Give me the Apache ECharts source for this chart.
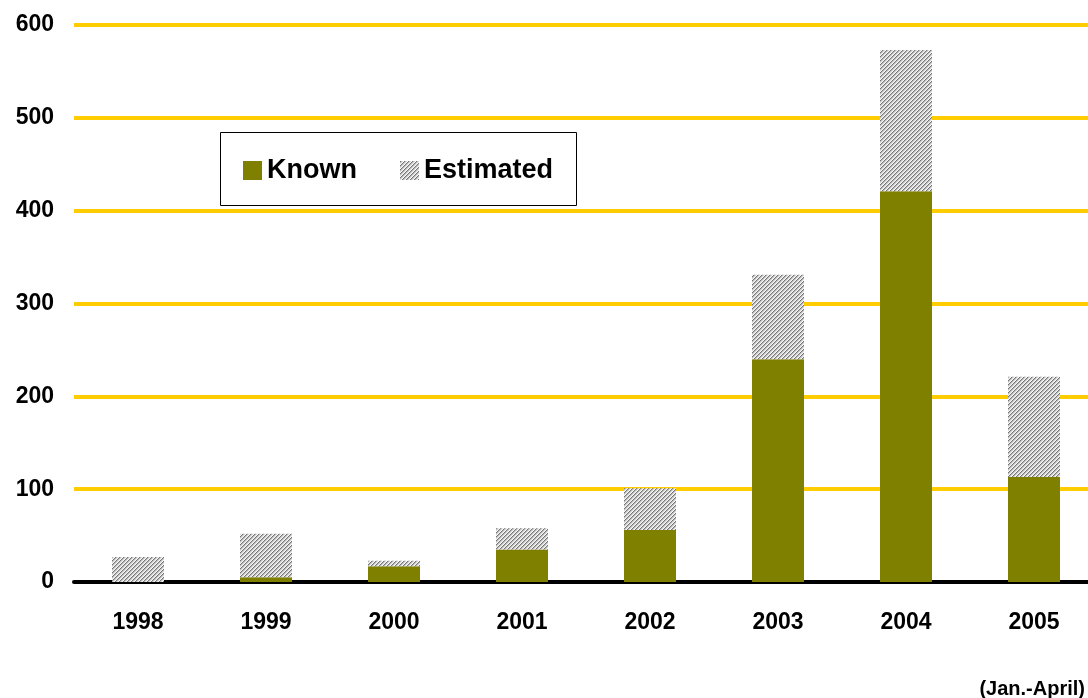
<!DOCTYPE html>
<html><head><meta charset="utf-8">
<script src="https://cdn.jsdelivr.net/npm/echarts@6/dist/echarts.min.js"></script>
<style>html,body{margin:0;padding:0;background:#fff;overflow:hidden}#c{width:1098px;height:698px}</style>
</head><body><div id="c"></div>
<script>
const years = ['1998','1999','2000','2001','2002','2003','2004','2005'];
const known = [0, 5, 17, 35, 56, 240, 421, 113];
const estimated = [27, 47, 6, 23, 45, 91, 152, 108];
const yTicks = [0, 100, 200, 300, 400, 500, 600];

function hatch(){
  const c = document.createElement('canvas');
  c.width = 4; c.height = 4;
  const g = c.getContext('2d');
  g.fillStyle = '#ffffff'; g.fillRect(0,0,4,4);
  const cols = ['#767676', '#b8b8b8', '#dcdcdc', '#f8f8f8'];
  for (let x=0;x<4;x++) for (let y=0;y<4;y++){
    g.fillStyle = cols[(x+y)%4]; g.fillRect(x,y,1,1);
  }
  return c;
}
const pat = {image: hatch(), repeat: 'repeat'};
const font = 'Liberation Sans, Arial, sans-serif';
const chart = echarts.init(document.getElementById('c'));
chart.setOption({
  animation: false,
  backgroundColor: '#ffffff',
  grid: {left: 74, right: 0, top: 25, bottom: 116},
  graphic: [
    {type:'rect', left:220, top:132, shape:{width:356, height:73}, style:{fill:'#fff', stroke:'#000', lineWidth:1}, z: 5},
    {type:'text', right:13, top:679, style:{text:'(Jan.-April)', font:'bold 20px ' + font, fill:'#000'}}
  ],
  legend: {
    left: 238, top: 152, itemWidth: 19, itemHeight: 19, itemGap: 43, z: 10,
    icon: 'rect',
    textStyle: {fontSize: 27, fontWeight: 'bold', fontFamily: font, color: '#000'},
    data: ['Known', 'Estimated']
  },
  xAxis: {
    type: 'category', data: years,
    axisLine: {lineStyle: {color: '#000', width: 4}},
    axisTick: {show: false},
    axisLabel: {fontSize: 23, fontWeight: 'bold', fontFamily: font, color: '#000', margin: 29}
  },
  yAxis: {
    type: 'value', min: yTicks[0], max: yTicks[yTicks.length-1], interval: 100,
    axisLine: {show: false}, axisTick: {show: false},
    axisLabel: {fontSize: 23, fontWeight: 'bold', fontFamily: font, color: '#000', margin: 20, padding: [4, 0, 0, 0]},
    splitLine: {lineStyle: {color: '#FFCC00', width: 4}}
  },
  series: [
    {name: 'Known', type: 'bar', stack: 'a', data: known, barWidth: 52, itemStyle: {color: '#808000'}},
    {name: 'Estimated', type: 'bar', stack: 'a', data: estimated, barWidth: 52, itemStyle: {color: pat}}
  ]
});
</script></body></html>
